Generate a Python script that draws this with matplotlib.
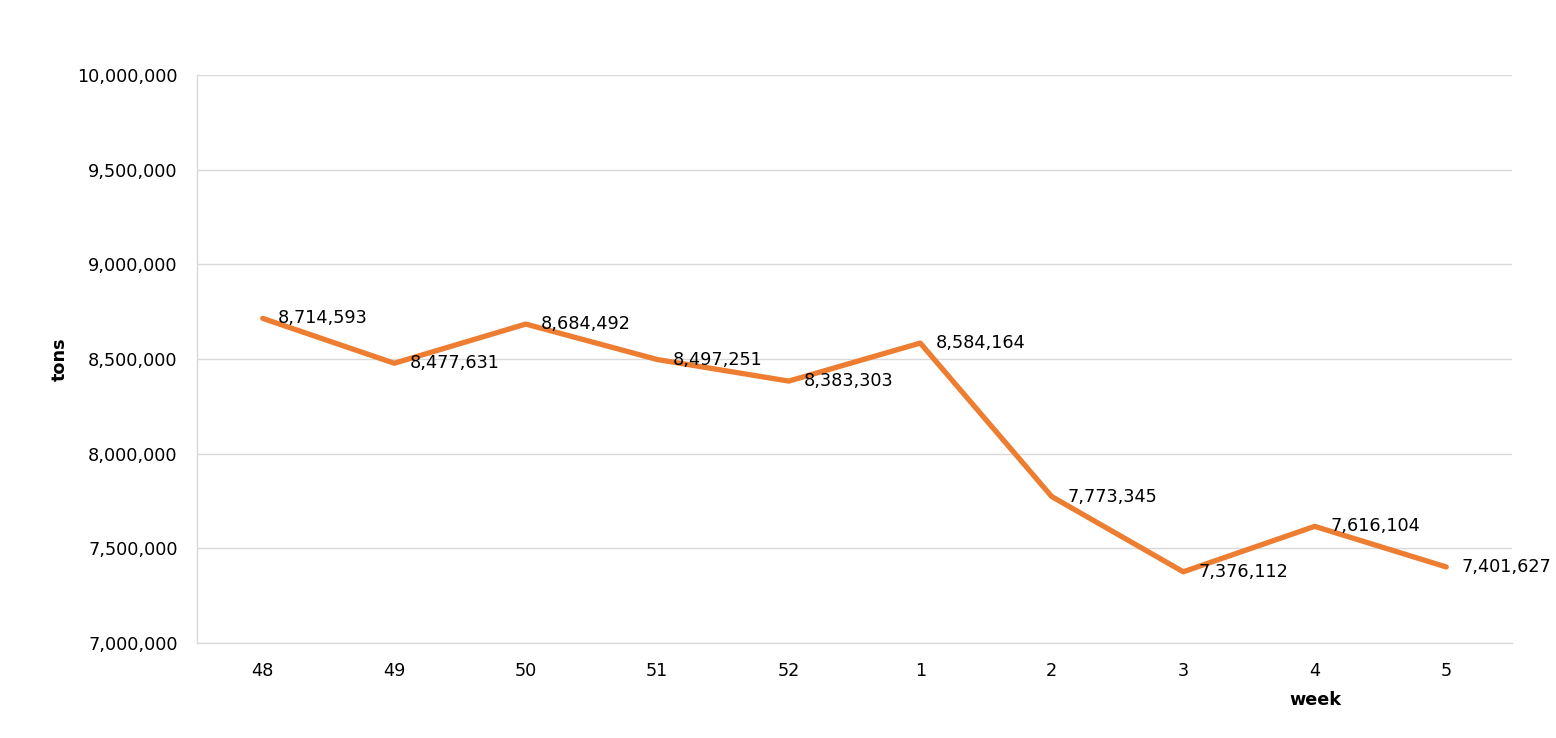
import matplotlib.pyplot as plt
from matplotlib.ticker import FuncFormatter

weeks = ['48', '49', '50', '51', '52', '1', '2', '3', '4', '5']
tons = [8714593, 8477631, 8684492, 8497251, 8383303, 8584164, 7773345, 7376112, 7616104, 7401627]

plt.rcParams['font.family'] = ['DejaVu Sans']
fs = 12.7

fig = plt.figure(figsize=(15.56, 7.38), dpi=100)
ax = fig.add_axes([197 / 1556, 1 - 643 / 738, (1512 - 197) / 1556, (643 - 75) / 738])

x = list(range(len(weeks)))
ax.plot(x, tons, color='#ED7D31', linewidth=3.8, solid_capstyle='round', solid_joinstyle='round', zorder=3)

for xi, v in zip(x, tons):
    ax.annotate(f'{v:,}', (xi, v), xytext=(11, 0), textcoords='offset points',
                ha='left', va='center', fontsize=fs, color='black', zorder=4)

ax.set_xlim(-0.5, len(weeks) - 0.5)
ax.set_ylim(7000000, 10000000)
ax.set_yticks(range(7000000, 10000001, 500000))
ax.yaxis.set_major_formatter(FuncFormatter(lambda v, p: f'{int(v):,}'))
ax.set_xticks(x)
ax.set_xticklabels(weeks)

ax.grid(axis='y', color='#D9D9D9', linewidth=1)
ax.set_axisbelow(True)
for side in ['top', 'right']:
    ax.spines[side].set_visible(False)
for side in ['left', 'bottom']:
    ax.spines[side].set_color('#D9D9D9')
    ax.spines[side].set_linewidth(1)
ax.tick_params(length=0, labelsize=fs, colors='black')
ax.tick_params(axis='y', pad=14)
ax.tick_params(axis='x', pad=14)

ax.set_ylabel('tons', fontsize=fs, fontweight='bold', labelpad=6)
fig.text(1315 / 1556, 1 - 700 / 738, 'week', ha='center', va='center', fontsize=fs, fontweight='bold')

plt.savefig('out.png', dpi=100)
